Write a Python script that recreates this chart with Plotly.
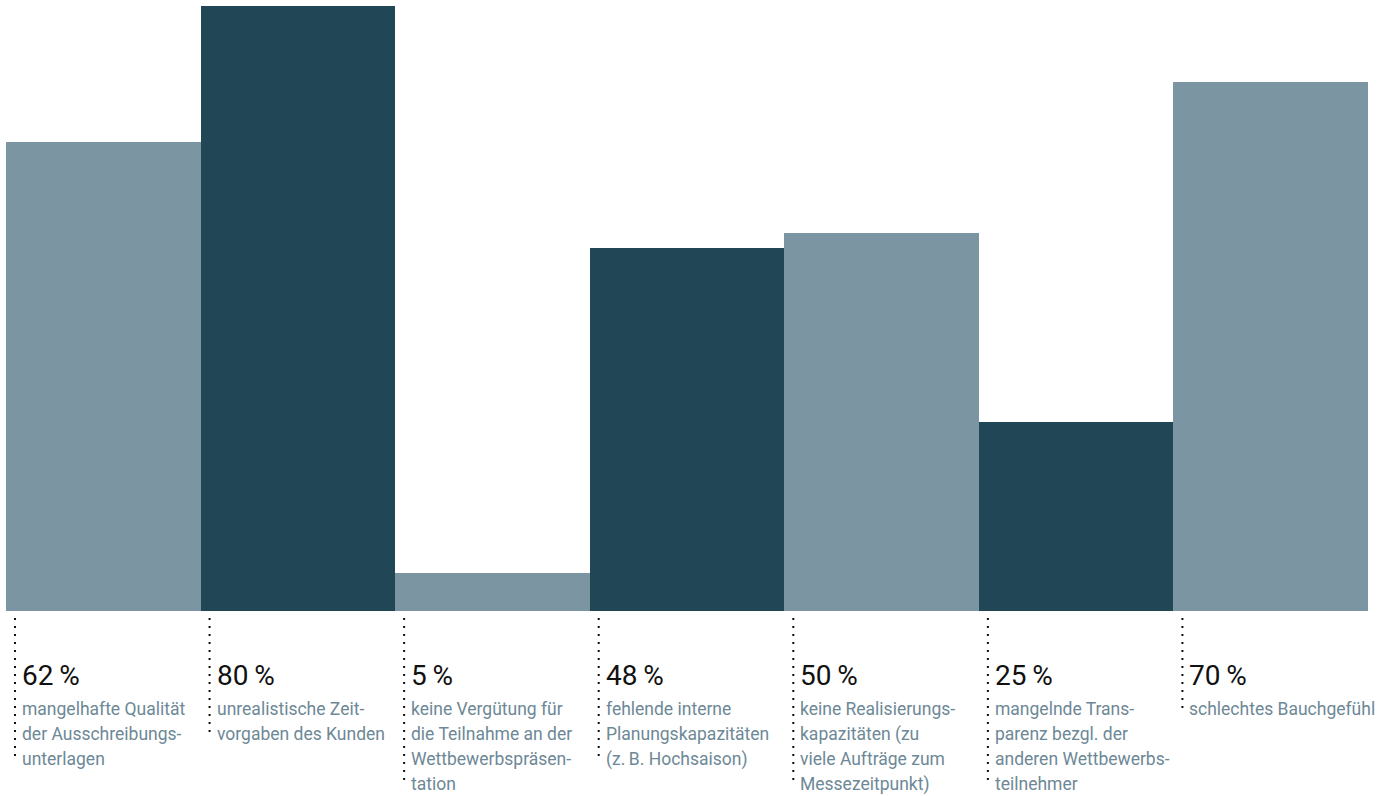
import plotly.graph_objects as go

# Survey results: reasons for declining a pitch (share of respondents, %)
values = [62, 80, 5, 48, 50, 25, 70]
labels = [
    ["mangelhafte Qualität", "der Ausschreibungs-", "unterlagen"],
    ["unrealistische Zeit-", "vorgaben des Kunden"],
    ["keine Vergütung für", "die Teilnahme an der", "Wettbewerbspräsen-", "tation"],
    ["fehlende interne", "Planungskapazitäten", "(z.\u2009B. Hochsaison)"],
    ["keine Realisierungs-", "kapazitäten (zu", "viele Aufträge zum", "Messezeitpunkt)"],
    ["mangelnde Trans-", "parenz bezgl. der", "anderen Wettbewerbs-", "teilnehmer"],
    ["schlechtes Bauchgefühl"],
]
bar_colors = ["#7b96a2", "#214756", "#7b96a2", "#214756", "#7b96a2", "#214756", "#7b96a2"]

FONT = "Roboto, DejaVu Sans Condensed, sans-serif"
W, H = 1381, 796
M_L, M_R, M_T, M_B = 6, 13, 0, 185
PX_PER_PCT = 7.5625
LINE_STEP = 25  # px between description lines
plot_h = H - M_T - M_B

x = list(range(len(values)))

fig = go.Figure(
    go.Bar(
        x=x,
        y=values,
        marker=dict(color=bar_colors, line=dict(width=0)),
        width=1.0,
        hoverinfo="skip",
    )
)

annotations = []
shapes = []
for i, (v, lines) in enumerate(zip(values, labels)):
    # value label
    annotations.append(dict(
        x=i - 0.5, xref="x", xanchor="left", xshift=14,
        y=0, yref="paper", yanchor="top", yshift=-46,
        text=f"{v}\u2009%", showarrow=False,
        font=dict(family=FONT, size=28, color="#111111"),
        align="left",
    ))
    # category description, one annotation per line for even spacing
    for k, line in enumerate(lines):
        annotations.append(dict(
            x=i - 0.5, xref="x", xanchor="left", xshift=14,
            y=0, yref="paper", yanchor="top", yshift=-86 - LINE_STEP * k,
            text=line, showarrow=False,
            font=dict(family=FONT, size=17.5, color="#6d8896"),
            align="left",
        ))
    # dotted leader line beneath each bar
    shapes.append(dict(
        type="line",
        xref="x", xsizemode="pixel", xanchor=i - 0.5, x0=9, x1=9,
        yref="paper", ysizemode="pixel", yanchor=0,
        y0=-7, y1=-(100 + LINE_STEP * (len(lines) - 1)),
        line=dict(color="#111111", width=2, dash="2px,6px"),
    ))

fig.update_layout(
    width=W, height=H,
    margin=dict(l=M_L, r=M_R, t=M_T, b=M_B),
    paper_bgcolor="white", plot_bgcolor="white",
    bargap=0,
    showlegend=False,
    xaxis=dict(range=[-0.5, len(values) - 0.5], visible=False, fixedrange=True),
    yaxis=dict(range=[0, plot_h / PX_PER_PCT], visible=False, fixedrange=True),
    annotations=annotations,
    shapes=shapes,
)

fig.write_html("out.html", config={"displayModeBar": False})
